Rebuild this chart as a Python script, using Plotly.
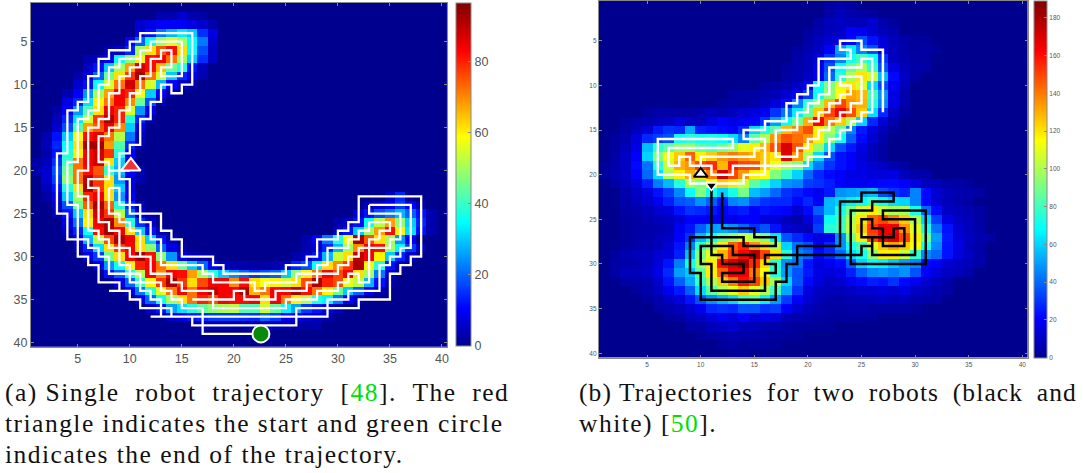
import plotly.graph_objects as go

W, H = 1083, 473
TICKS = [5, 10, 15, 20, 25, 30, 35, 40]
ZMAX_A, ZMAX_B = 96.5, 189

# (first column, values) for rows 1..40; every other cell is 0
ROWS_A = [
 (1, []), (13, [3, 3, 6, 3, 2]), (11, [6, 8, 10, 10, 10, 8, 6, 3]),
 (11, [8, 12, 22, 28, 33, 30, 15, 8]), (10, [10, 20, 36, 50, 55, 50, 35, 22, 6]),
 (8, [3, 6, 14, 50, 62, 75, 82, 62, 35, 18, 5]),
 (6, [3, 5, 10, 35, 48, 60, 82, 84, 72, 50, 30, 15, 5]),
 (6, [5, 12, 30, 50, 68, 88, 82, 65, 45, 38, 12, 4]),
 (5, [3, 8, 20, 45, 62, 78, 92, 72, 55, 30, 14, 8, 3]),
 (5, [6, 12, 35, 55, 72, 88, 72, 55, 28, 10, 5, 2]),
 (4, [3, 10, 25, 50, 68, 84, 80, 58, 30, 10, 3]),
 (4, [8, 14, 32, 60, 72, 84, 70, 45, 18, 4]),
 (3, [2, 10, 25, 42, 62, 85, 80, 55, 25, 8]),
 (3, [4, 14, 32, 55, 78, 92, 80, 38, 14, 3]),
 (3, [6, 18, 42, 68, 75, 85, 70, 30, 8]),
 (2, [3, 12, 30, 58, 82, 85, 72, 52, 22, 5]),
 (2, [4, 14, 35, 62, 92, 93, 68, 42, 14, 3]),
 (2, [3, 12, 38, 60, 84, 88, 78, 38, 10]),
 (1, [2, 4, 15, 40, 72, 84, 88, 62, 30, 8]),
 (1, [3, 6, 18, 45, 72, 82, 75, 40, 28, 10, 3]),
 (2, [6, 16, 48, 72, 90, 78, 62, 25, 8, 3]),
 (2, [4, 12, 38, 62, 92, 78, 62, 30, 8]),
 (2, [2, 8, 30, 50, 80, 84, 62, 25, 10, 0, 0, 0, 0, 0, 0, 0, 0, 0, 0, 0, 0, 0, 0, 0, 0, 0, 0, 0, 0, 0, 0, 0, 0, 6, 14]),
 (3, [6, 18, 45, 74, 92, 74, 38, 14, 4, 0, 0, 0, 0, 0, 0, 0, 0, 0, 0, 0, 0, 0, 0, 0, 0, 0, 0, 0, 0, 0, 4, 6, 10, 16, 10, 3]),
 (3, [4, 12, 30, 62, 88, 78, 52, 20, 6, 2, 0, 0, 0, 0, 0, 0, 0, 0, 0, 0, 0, 0, 0, 0, 0, 0, 0, 0, 0, 6, 12, 18, 22, 28, 20, 12, 3]),
 (4, [8, 22, 60, 84, 92, 70, 38, 15, 5, 0, 0, 0, 0, 0, 0, 0, 0, 0, 0, 0, 0, 0, 0, 0, 0, 0, 3, 6, 12, 36, 52, 68, 48, 30, 14, 3]),
 (4, [5, 14, 36, 82, 93, 84, 62, 30, 12, 3, 0, 0, 0, 0, 0, 0, 0, 0, 0, 0, 0, 0, 0, 0, 0, 0, 5, 12, 30, 50, 68, 82, 60, 32, 12, 3]),
 (5, [8, 28, 52, 76, 92, 84, 62, 30, 12, 4, 0, 0, 0, 0, 0, 0, 0, 0, 0, 0, 0, 0, 3, 10, 22, 38, 58, 92, 75, 62, 50, 25, 10]),
 (5, [4, 14, 32, 62, 78, 84, 62, 48, 20, 8, 3, 0, 0, 0, 0, 0, 0, 0, 0, 0, 0, 0, 3, 6, 14, 28, 50, 70, 84, 82, 50, 34, 16, 6]),
 (6, [8, 16, 45, 62, 84, 93, 82, 48, 25, 8, 3, 2, 1, 0, 0, 0, 0, 0, 0, 0, 3, 5, 12, 28, 54, 62, 90, 84, 60, 30, 14, 5]),
 (7, [8, 25, 36, 60, 80, 84, 72, 62, 45, 30, 20, 10, 5, 3, 3, 2, 2, 3, 6, 14, 18, 36, 62, 70, 78, 92, 60, 38, 12, 4]),
 (8, [12, 20, 38, 52, 84, 70, 84, 82, 68, 50, 38, 30, 24, 20, 16, 18, 20, 30, 48, 60, 72, 84, 76, 84, 62, 50, 22, 6]),
 (9, [8, 20, 40, 60, 78, 92, 78, 62, 76, 84, 84, 70, 82, 62, 58, 60, 55, 62, 76, 92, 80, 76, 56, 52, 28, 12, 3]),
 (10, [8, 22, 38, 56, 72, 84, 72, 84, 90, 84, 84, 92, 66, 72, 84, 84, 92, 82, 72, 60, 45, 30, 20, 8, 3]),
 (11, [8, 20, 36, 50, 62, 72, 80, 76, 84, 82, 82, 84, 62, 84, 72, 60, 52, 38, 34, 22, 10, 4]),
 (12, [6, 12, 26, 32, 38, 44, 48, 50, 52, 42, 42, 54, 44, 34, 26, 16, 12, 8, 4]),
 (14, [5, 8, 12, 14, 16, 16, 16, 15, 14, 20, 16, 10, 8, 6, 4, 3]),
 (17, [3, 3, 3, 2, 2, 2, 4, 4, 3, 2, 2, 3]),
 (1, []), (1, []),
]

ROWS_B = [
 (22, [4, 6, 4]), (22, [4, 8, 5, 4, 3]), (21, [4, 8, 10, 8, 8, 12, 6, 3]),
 (20, [3, 6, 8, 10, 20, 18, 12, 8, 6]),
 (20, [5, 8, 12, 14, 22, 35, 24, 14, 8, 5, 3, 3]),
 (19, [3, 6, 10, 20, 50, 65, 45, 35, 16, 8, 5, 3, 4, 2]),
 (19, [5, 8, 14, 30, 45, 72, 80, 70, 30, 10, 6, 4, 3]),
 (18, [3, 5, 8, 18, 36, 68, 88, 100, 78, 36, 15, 8, 5, 4]),
 (18, [4, 6, 10, 18, 40, 75, 100, 120, 105, 55, 22, 10, 4]),
 (16, [3, 4, 6, 10, 20, 68, 92, 112, 120, 108, 62, 34, 18, 8]),
 (13, [3, 4, 4, 6, 8, 12, 18, 32, 70, 95, 115, 132, 128, 80, 48, 16, 6]),
 (12, [3, 4, 3, 6, 8, 14, 22, 45, 75, 95, 128, 150, 135, 130, 75, 45, 16, 6]),
 (5, [3, 5, 4, 4, 4, 6, 8, 6, 8, 12, 14, 18, 30, 42, 65, 88, 125, 150, 165, 148, 125, 62, 28, 10, 3]),
 (3, [2, 5, 6, 8, 10, 14, 10, 8, 14, 20, 16, 18, 20, 30, 50, 70, 90, 130, 165, 140, 125, 100, 60, 28, 14, 6]),
 (3, [4, 8, 12, 25, 30, 28, 52, 26, 24, 22, 20, 28, 60, 72, 85, 128, 138, 148, 118, 100, 85, 45, 25, 15, 8, 3]),
 (2, [3, 6, 14, 28, 32, 36, 70, 75, 70, 72, 68, 62, 45, 85, 100, 135, 148, 142, 135, 118, 92, 70, 38, 22, 12, 6]),
 (2, [3, 8, 16, 56, 76, 85, 95, 95, 85, 80, 88, 95, 110, 118, 130, 148, 170, 148, 118, 95, 62, 35, 25, 16, 8, 4]),
 (2, [4, 10, 20, 60, 92, 112, 125, 145, 118, 125, 135, 140, 135, 130, 125, 120, 168, 135, 100, 62, 36, 24, 20, 14, 8, 4]),
 (1, [2, 5, 10, 22, 42, 75, 105, 130, 135, 150, 155, 128, 158, 150, 148, 125, 112, 100, 92, 62, 44, 30, 24, 20, 15, 12, 10, 6, 4]),
 (1, [3, 6, 10, 20, 40, 62, 100, 118, 130, 120, 140, 172, 150, 135, 118, 115, 92, 78, 60, 40, 28, 22, 20, 16, 16, 14, 14, 16, 8, 6, 5]),
 (2, [4, 8, 14, 26, 44, 55, 75, 100, 90, 115, 125, 120, 105, 85, 75, 60, 48, 45, 32, 30, 26, 20, 18, 18, 20, 22, 22, 20, 15, 8, 8, 5, 4, 3]),
 (3, [6, 10, 14, 24, 32, 46, 70, 92, 72, 60, 72, 90, 56, 50, 40, 30, 26, 22, 18, 25, 48, 50, 52, 55, 35, 30, 26, 45, 22, 12, 8, 6, 5, 4]),
 (3, [5, 8, 12, 18, 26, 36, 38, 48, 38, 26, 45, 48, 36, 30, 28, 28, 22, 28, 20, 55, 60, 66, 70, 80, 70, 62, 60, 45, 22, 12, 8, 5, 4]),
 (3, [4, 6, 8, 12, 14, 24, 30, 28, 25, 20, 24, 26, 20, 24, 22, 20, 12, 22, 38, 55, 72, 90, 108, 118, 105, 100, 100, 72, 40, 22, 10, 8, 6, 4]),
 (3, [3, 4, 6, 8, 10, 14, 20, 20, 18, 18, 16, 20, 20, 14, 14, 8, 6, 14, 28, 70, 78, 100, 120, 145, 150, 140, 125, 100, 60, 32, 16, 10, 8, 4]),
 (3, [3, 4, 5, 6, 8, 18, 24, 38, 50, 52, 48, 40, 30, 36, 24, 12, 10, 8, 32, 75, 80, 102, 125, 152, 165, 165, 135, 110, 72, 42, 24, 12, 8, 5]),
 (3, [3, 4, 6, 8, 10, 20, 30, 55, 72, 88, 95, 105, 100, 92, 65, 36, 28, 22, 14, 18, 48, 90, 118, 150, 165, 170, 150, 118, 88, 50, 25, 14, 10, 6, 4]),
 (3, [3, 5, 6, 8, 12, 24, 44, 78, 95, 118, 145, 155, 135, 122, 100, 60, 42, 36, 20, 28, 48, 72, 82, 110, 125, 132, 125, 115, 72, 46, 24, 16, 8, 5]),
 (2, [3, 6, 8, 8, 12, 14, 26, 56, 92, 110, 130, 150, 162, 178, 150, 122, 76, 46, 40, 22, 28, 40, 62, 72, 95, 118, 118, 105, 78, 46, 40, 24, 14, 10, 5]),
 (2, [4, 5, 6, 8, 14, 24, 44, 72, 98, 118, 160, 172, 182, 155, 122, 76, 48, 42, 24, 14, 18, 22, 38, 60, 68, 66, 58, 50, 46, 22, 20, 12, 10, 8, 5]),
 (2, [4, 8, 8, 10, 16, 28, 50, 58, 85, 118, 145, 165, 165, 140, 115, 76, 50, 36, 25, 16, 14, 16, 26, 38, 46, 48, 44, 48, 36, 20, 14, 10, 8, 6]),
 (3, [4, 5, 6, 12, 24, 38, 52, 78, 100, 125, 140, 160, 150, 125, 98, 60, 36, 22, 14, 10, 12, 18, 22, 26, 24, 30, 22, 18, 12, 8, 5]),
 (4, [3, 5, 10, 18, 25, 38, 62, 85, 100, 110, 125, 110, 100, 80, 52, 30, 15, 10, 8, 8, 10, 12, 12, 14, 12, 16, 10, 8, 6, 4]),
 (5, [3, 6, 10, 14, 24, 36, 48, 55, 62, 80, 85, 66, 50, 32, 20, 12, 8, 5, 5, 6, 7, 8, 10, 8, 8, 6, 5, 4]),
 (6, [4, 6, 8, 12, 18, 28, 30, 28, 36, 36, 30, 32, 20, 12, 8, 6, 4, 4, 5, 5, 4, 4, 4, 4, 3]),
 (7, [3, 4, 8, 10, 14, 18, 14, 20, 14, 16, 14, 8, 6, 5, 4, 3, 3, 3, 3, 3]),
 (9, [4, 4, 8, 10, 12, 8, 8, 6, 6, 4, 3, 3, 2, 2]),
 (10, [2, 4, 4, 6, 5, 5, 4, 3, 3, 2]),
 (12, [3, 4, 2, 3, 3, 2]),
 (13, [2, 2]),
]

# trajectories, as (column, row) grid points; None breaks the line
WHITE_A = [
 (8,34),(9,34),(9,33),(7,33),(7,31),(6,31),(6,30),(5,30),(5,28),(4,28),(4,25),(3,25),(3,18),(4,18),(4,13),(5,13),(5,12),(6,12),(6,9),(7,9),(7,7),(8,7),(8,6),(10,6),(10,5),(11,5),(11,4),(16,4),(16,10),(15,10),(15,11),(14,11),(14,10),(13,10),(13,12),(12,12),(12,14),(11,14),(11,17),(10,17),(10,18),(9,18),(9,21),(10,21),(10,24),(11,24),(11,25),(13,25),(13,27),(14,27),(14,28),(15,28),(15,30),(18,30),(18,31),(19,31),(19,32),(25,32),(25,31),(27,31),(27,30),(28,30),(28,28),(30,28),(30,27),(31,27),(31,26),(32,26),(32,23),(38,23),(38,30),(37,30),(37,31),(36,31),(36,32),(35,32),(35,35),(32,35),(32,36),(29,36),(29,37),(12,37),None,
 (9,34),(10,34),(10,35),(11,35),(11,36),(13,36),(13,37),None,
 (14,37),(14,36),(13,36),(13,35),(12,35),(12,34),(11,34),(11,33),(10,33),(10,32),(8,32),(8,30),(7,30),(7,29),(6,29),(6,28),(5,28),(5,24),(4,24),(4,19),(5,19),(5,14),(6,14),(6,13),(7,13),(7,10),(8,10),(8,8),(9,8),(9,7),(11,7),(11,6),(12,6),(12,5),(15,5),(15,9),(13,9),(13,8),(14,8),(14,6),(13,6),(13,7),(12,7),(12,9),(11,9),(11,11),(10,11),(10,13),(9,13),(9,15),(8,15),(8,16),(7,16),(7,19),(8,19),(8,20),(10,20),None,
 (11,7),(11,8),(10,8),(10,9),(9,9),(9,11),(8,11),(8,14),(7,14),(7,15),(6,15),(6,20),(5,20),(5,23),(6,23),(6,27),(7,27),(7,28),(8,28),(8,29),(9,29),(9,31),(10,31),(10,32),(11,32),(11,33),(13,33),(13,34),(14,34),(14,35),(15,35),(15,36),(17,36),(17,39),(22.6,39),None,
 (8,20),(8,21),(6,21),(6,22),(7,22),(7,26),(8,26),(8,27),(9,27),(9,29),(10,29),(10,30),(12,30),(12,32),(14,32),(14,33),(15,33),(15,34),(18,34),(18,35),(20,35),(20,34),(21,34),(21,35),(24,35),(24,34),(27,34),(27,33),(28,33),(28,32),(30,32),(30,31),(31,31),(31,30),(32,30),(32,29),(33,29),(33,28),(34,28),None,
 (8,22),(9,22),(9,24),(10,24),(10,25),(11,25),(11,26),(12,26),(12,28),(13,28),(13,31),(17,31),(17,32),(18,32),(18,33),(22,33),(22,34),(23,34),(23,33),(26,33),(26,32),(28,32),(28,31),(29,31),(29,29),(31,29),(31,28),(32,28),(32,27),(33,27),(33,26),(35,26),(35,27),(34,27),(34,28),None,
 (33,24),(37,24),(37,29),(36,29),(36,30),(35,30),(35,31),(34,31),(34,34),(31,34),(31,35),(29,35),(29,36),(26,36),(26,38),(16,38),(16,37),None,
 (33,24),(33,25),(36,25),(36,28),(35,28),(35,29),(33,29),(33,33),(32,33),(32,32),(31,32),(31,33),(30,33),(30,34),(28,34),(28,35),(25,35),(25,36),(18,36),(18,35),(16,35),None,
 (8,22),(8,25),(9,25),(9,26),(10,26),(10,27),(11,27),(11,30),
]
WHITE_B = [
 (10,20),(10,19),(9,19),(9,18),(8,18),(8,19),(7,19),(7,17),(13,17),(13,16),(6,16),(6,20),(9,20),(9,21),(14,21),(14,20),(16,20),(16,16),(14,16),(14,15),(16,15),(16,14),(18,14),(18,12),(19,12),(19,11),(20,11),(20,10),(21,10),(21,7),(24,7),(24,6),(23,6),(23,5),(25,5),(25,6),(27,6),(27,13),None,
 (10,19),(10,18),(15,18),(15,17),(16,17),None,
 (10,19),(11,19),(11,20),(13,20),(13,19),(20,19),(20,18),(22,18),(22,16),(23,16),(23,15),(24,15),(24,14),(25,14),(25,13),(26,13),(26,7),(25,7),(25,8),(22,8),(22,11),(21,11),(21,12),(20,12),(20,13),(19,13),(19,15),(17,15),(17,18),(19,18),(19,17),(20,17),(20,16),(21,16),(21,15),(22,15),(22,14),(23,14),(23,13),(24,13),(24,12),(25,12),(25,9),(23,9),(23,10),(24,10),(24,11),(23,11),(23,12),(22,12),(22,13),(21,13),(21,14),(20,14),
]
BLACK_B = [
 (11,21),(11,29),(12,29),(12,30),(14,30),(14,31),(12,31),(12,32),(15,32),(15,29),(13,29),(13,28),(10,28),(10,30),(11,30),(11,33),(16,33),(16,31),(17,31),(17,30),(16,30),(16,29),(25,29),(25,28),(26,28),(26,27),(25,27),(25,25),(26,25),(26,26),(27,26),(27,28),(29,28),(29,26),(28,26),(28,27),(26,27),(26,29),(30,29),(30,25),(27,25),(27,24),(31,24),(31,30),(24,30),(24,24),(26,24),(26,23),(28,23),(28,22),(25,22),(25,23),(23,23),(23,28),(19,28),(19,30),(18,30),(18,32),(17,32),(17,34),(10,34),(10,31),(9,31),(9,27),(14,27),(14,28),(17,28),(17,27),(15,27),(15,26),(12,26),(12,22),
]
START_A, END_A = (10.1, 19.5), (22.6, 39)
START_B, END_B = (10, 19.9), (11, 21.2)

JET = [[0, "#00008f"], [0.11, "#0000ff"], [0.36, "#00ffff"], [0.61, "#ffff00"], [0.86, "#ff0000"], [1, "#800000"]]
GREY, TXT = "#888888", "#555555"


def matrix(rows):
    z = []
    for start, vals in rows:
        r = [0] * 40
        for i, v in enumerate(vals):
            r[start - 1 + i] = v
        z.append(r)
    return z


def xy(path):
    return ([p[0] if p else None for p in path], [p[1] if p else None for p in path])


fig = go.Figure()
labels = list(range(1, 41))


def cbar(x0, x1, top, bottom, ticks, size):
    return dict(x=x0 / W, xanchor="left", xref="paper", thickness=x1 - x0, thicknessmode="pixels",
                len=(bottom - top) / H, lenmode="fraction", y=1 - bottom / H, yanchor="bottom", yref="paper",
                tickmode="array", tickvals=ticks, ticks="inside", ticklen=3, tickcolor=GREY,
                outlinecolor=GREY, outlinewidth=1, xpad=0, ypad=0, tickfont=dict(size=size, color=TXT, family="Liberation Sans"))


fig.add_heatmap(z=matrix(ROWS_A), x=labels, y=labels, colorscale=JET, zmin=0, zmax=ZMAX_A,
                colorbar=cbar(457, 472, 3, 348, [0, 20, 40, 60, 80], 12.5), xaxis="x", yaxis="y", hoverinfo="skip")
fig.add_heatmap(z=matrix(ROWS_B), x=labels, y=labels, colorscale=JET, zmin=0, zmax=ZMAX_B,
                colorbar=cbar(1036, 1049, 1, 360, [0, 20, 40, 60, 80, 100, 120, 140, 160, 180], 6.5), xaxis="x2", yaxis="y2", hoverinfo="skip")

x, y = xy(WHITE_A)
fig.add_scatter(x=x, y=y, mode="lines", line=dict(color="white", width=2.3), xaxis="x", yaxis="y", showlegend=False)
x, y = xy(WHITE_B)
fig.add_scatter(x=x, y=y, mode="lines", line=dict(color="white", width=2.5), xaxis="x2", yaxis="y2", showlegend=False)
x, y = xy(BLACK_B)
fig.add_scatter(x=x, y=y, mode="lines", line=dict(color="black", width=2.5), xaxis="x2", yaxis="y2", showlegend=False)


def marker(pt, sym, size, fill, edge, w, ax):
    fig.add_scatter(x=[pt[0]], y=[pt[1]], mode="markers", marker=dict(symbol=sym, size=size, color=fill, line=dict(color=edge, width=w)),
                    xaxis="x" + ax, yaxis="y" + ax, showlegend=False)


marker(START_A, "triangle-up", 17, "#f0323c", "white", 2, "")
marker(END_A, "circle", 17, "#0a8a0a", "white", 2, "")
marker(START_B, "triangle-up", 12, "white", "black", 2, "2")
marker(END_B, "triangle-down", 10, "black", "white", 1.5, "2")


def axes(left, right, top, bottom, size):
    ax = dict(tickmode="array", tickvals=TICKS, ticks="inside", ticklen=3, tickcolor=GREY, showgrid=False, zeroline=False,
              showline=True, linecolor=GREY, linewidth=1, mirror="allticks", tickfont=dict(size=size, color=TXT, family="Liberation Sans"))
    xa = dict(ax, domain=[left / W, right / W], range=[0.5, 40.5])
    ya = dict(ax, domain=[1 - bottom / H, 1 - top / H], range=[40.5, 0.5])
    return xa, ya


xa, ya = axes(31, 448, 3, 349, 12.5)
xa2, ya2 = axes(600, 1029.5, 0.6, 360, 6.5)
xa["anchor"], ya["anchor"], xa2["anchor"], ya2["anchor"] = "y", "x", "y2", "x2"

N = "\u00a0"


def s(t, color=None, ls=1.48):
    c = f"color:{color};" if color else ""
    return f'<span style="{c}letter-spacing:{ls}px">{t}</span>'


CAPTIONS = [
 (3, 395, s(f"(a) Single{N}{N}robot{N}{N}trajectory{N}{N}[") + s("48", "#00e000") + s(f"].{N}{N}The{N}{N}red")),
 (3, 426, s("triangle indicates the start and green circle")),
 (3, 457, s("indicates the end of the trajectory.")),
 (578, 395, s(f"(b) Trajectories{N}\u2009for{N}\u2009two{N}\u2009robots{N}\u2009(black{N}\u2009and", ls=1.1)),
 (578, 426, s("white) [") + s("50", "#00e000") + s("]."))
]
anns = [dict(x=px / W, y=1 - py / H, xref="paper", yref="paper", xanchor="left", yanchor="middle", text=t, showarrow=False,
             font=dict(family="Liberation Serif", size=25.5, color="#111111")) for px, py, t in CAPTIONS]

fig.update_layout(width=W, height=H, autosize=False, margin=dict(l=0, r=0, t=0, b=0), paper_bgcolor="white", plot_bgcolor="white",
                  xaxis=xa, yaxis=ya, xaxis2=xa2, yaxis2=ya2, annotations=anns, showlegend=False)
fig.write_html("out.html", config={"displayModeBar": False},
               post_script="document.body.style.margin='0';document.documentElement.style.overflow='hidden';")
